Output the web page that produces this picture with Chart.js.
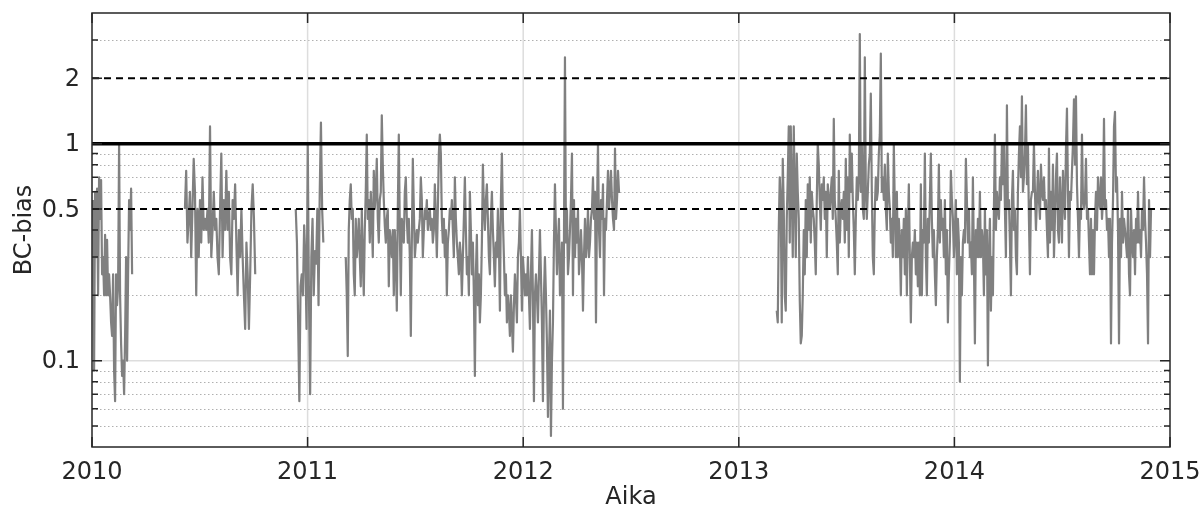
<!DOCTYPE html>
<html>
<head>
<meta charset="utf-8">
<title>BC-bias</title>
<script src="https://cdn.jsdelivr.net/npm/chart.js@4.4.1/dist/chart.umd.min.js"></script>
<style>
    html, body { margin: 0; padding: 0; background: #ffffff; }
    #wrap { width: 1203px; height: 508px; }
</style>
</head>
<body>
<div id="wrap"><canvas id="biasChart" width="1203" height="508"></canvas></div>
<script>
// Axis ticks and reference levels
const yearTicks = [2010, 2011, 2012, 2013, 2014, 2015];
const yTickValues = [0.1, 0.5, 1, 2];
const yMinorValues = [0.05, 0.06, 0.07, 0.08, 0.09, 0.2, 0.3, 0.4, 0.6, 0.7, 0.8, 0.9, 3];
const refLevels = [0.5, 1, 2];

// Measurement periods (decimal year), one bias array per period
const segStart = [2010.005, 2010.431, 2010.945, 2011.177, 2013.176];
const segEnd   = [2010.186, 2010.757, 2011.073, 2012.449, 2014.912];

const biasA = [0.55, 0.09, 0.6, 0.3, 0.62, 0.2, 0.7, 0.45, 0.68, 0.25,
    0.3, 0.2, 0.38, 0.2, 0.36, 0.2, 0.25, 0.2, 0.15, 0.13,
    0.25, 0.09, 0.065, 0.25, 0.18, 0.22, 1.0, 0.2, 0.12, 0.085,
    0.1, 0.07, 0.13, 0.3, 0.1, 0.25, 0.55, 0.4, 0.62, 0.25];

const biasB = [0.5, 0.75, 0.35, 0.45, 0.6, 0.3, 0.5, 0.85, 0.6, 0.2,
    0.5, 0.3, 0.55, 0.35, 0.7, 0.4, 0.45, 0.4, 0.5, 0.35,
    1.2, 0.3, 0.4, 0.6, 0.4, 0.45, 0.3, 0.25, 0.5, 0.9,
    0.3, 0.55, 0.4, 0.75, 0.4, 0.6, 0.3, 0.25, 0.55, 0.45,
    0.65, 0.35, 0.2, 0.4, 0.3, 0.5, 0.3, 0.2, 0.14, 0.35,
    0.25, 0.14, 0.25, 0.5, 0.65, 0.45, 0.25];

const biasC = [0.5, 0.35, 0.15, 0.065, 0.22, 0.25, 0.2, 0.42, 0.3, 0.14,
    1.0, 0.2, 0.07, 0.3, 0.45, 0.2, 0.32, 0.28, 0.5, 0.18,
    0.6, 1.25, 0.5, 0.35];

const biasD = [0.3, 0.2, 0.105, 0.4, 0.55, 0.65, 0.45, 0.5, 0.25, 0.2,
    0.45, 0.3, 0.35, 0.45, 0.3, 0.22, 0.5, 0.3, 0.2, 0.4,
    0.6, 1.1, 0.45, 0.55, 0.35, 0.6, 0.45, 0.3, 0.75, 0.5,
    0.6, 0.85, 0.45, 0.35, 0.55, 0.6, 1.35, 0.8, 0.55, 0.42,
    0.35, 0.45, 0.5, 0.22, 0.4, 0.35, 0.3, 0.4, 0.2, 0.4,
    0.3, 0.17, 0.5, 1.1, 0.4, 0.2, 0.45, 0.4, 0.35, 0.6,
    0.7, 0.45, 0.35, 0.45, 0.3, 0.13, 0.35, 0.85, 0.5, 0.3,
    0.35, 0.4, 0.35, 0.4, 0.45, 0.7, 0.55, 0.3, 0.4, 0.5,
    0.45, 0.55, 0.4, 0.45, 0.5, 0.4, 0.45, 0.35, 0.4, 0.65,
    0.45, 0.3, 0.5, 0.9, 1.1, 0.9, 0.45, 0.35, 0.45, 0.3,
    0.4, 0.2, 0.35, 0.4, 0.5, 0.45, 0.55, 0.4, 0.3, 0.7,
    0.45, 0.35, 0.3, 0.25, 0.35, 0.3, 0.2, 0.3, 0.45, 0.7,
    0.4, 0.25, 0.3, 0.2,
    0.6, 0.4, 0.25, 0.35, 0.2, 0.085, 0.25, 0.38, 0.18, 0.25,
    0.15, 0.2, 0.35, 0.8, 0.5, 0.4, 0.55, 0.65, 0.45, 0.3,
    0.25, 0.45, 0.6, 0.4, 0.3, 0.22, 0.35, 0.3, 0.5, 0.35,
    0.17, 0.55, 0.9, 0.45, 0.3, 0.2, 0.25, 0.15, 0.2, 0.17,
    0.13, 0.2, 0.15, 0.11, 0.18, 0.25, 0.2, 0.15, 0.3, 0.35,
    0.5, 0.3, 0.17, 0.3, 0.25, 0.2, 0.25, 0.2, 0.3, 0.2,
    0.14, 0.25, 0.4, 0.2, 0.065, 0.2, 0.25, 0.2, 0.15, 0.25,
    0.4, 0.25, 0.15, 0.065, 0.2, 0.3, 0.2, 0.12, 0.055, 0.1,
    0.17,
    0.045, 0.1, 0.15, 0.35, 0.65, 0.4, 0.25, 0.35, 0.45, 0.2,
    0.25, 0.35, 0.06, 0.35, 2.5, 0.35, 0.5, 0.25, 0.3, 0.4,
    0.55, 0.9, 0.2, 0.55, 0.3, 0.45, 0.35, 0.5, 0.25, 0.3,
    0.4, 0.3, 0.17, 0.3, 0.45, 0.3, 0.35, 0.5, 0.3, 0.35,
    0.45, 0.5, 0.7, 0.45, 0.6, 0.15, 0.5, 1.0, 0.4, 0.3,
    0.55, 0.45, 0.65, 0.2, 0.45, 0.4, 0.55, 0.75, 0.5, 0.6,
    0.75, 0.55, 0.45, 0.4, 0.95, 0.45, 0.55, 0.75, 0.6, 0.6];

const biasE = [0.17, 0.15, 0.4, 0.7, 0.55, 0.15, 0.85, 0.5, 0.2, 0.17,
    0.45, 0.7, 1.2, 0.35, 1.2, 0.6, 0.3, 1.2, 0.6, 0.3,
    0.9, 0.6, 0.45, 0.19, 0.12, 0.13, 0.2, 0.4, 0.25, 0.55,
    0.3, 0.65, 0.4, 0.7, 0.35, 0.6, 0.5, 0.45, 0.35, 0.25,
    0.55, 1.0, 0.8, 0.55, 0.4, 0.65, 0.55, 0.7, 0.45, 0.6,
    0.3, 0.65, 0.55, 0.5, 0.6, 0.7, 0.45, 1.3, 0.55, 0.45,
    0.35, 0.25, 0.75, 0.35, 0.5, 0.55, 0.45, 0.6, 0.35, 0.85,
    0.4, 0.7, 0.3, 1.1, 0.6, 0.9, 0.55, 0.4, 0.25, 0.45,
    0.7, 0.55, 0.7, 3.2, 0.6, 1.0, 0.5, 0.45, 2.5, 0.6,
    0.45, 0.6, 0.8, 0.9, 1.7, 0.6, 0.3, 0.25, 0.5, 0.7,
    0.55, 0.6, 0.9, 1.1, 2.6, 0.6, 0.7, 0.55, 0.8, 0.5,
    0.4, 0.9, 0.6, 0.5, 0.35, 0.45, 0.3, 1.0, 0.5, 0.3,
    0.6, 0.3,
    0.45, 0.35, 0.2, 0.4, 0.3, 0.45, 0.25, 0.5, 0.2, 0.4,
    0.65, 0.3, 0.15, 0.3, 0.35, 0.3, 0.4, 0.25, 0.35, 0.22, 0.35,
    0.2, 0.65, 0.2, 0.4, 0.35, 0.9, 0.3, 0.2, 0.45, 0.35,
    0.55, 0.9, 0.45, 0.3, 0.4, 0.25, 0.18, 0.3, 0.4, 0.8, 0.35,
    0.55, 0.4, 0.45, 0.3, 0.55, 0.25, 0.4, 0.15, 0.25, 0.35, 0.75,
    0.55, 0.45, 0.3, 0.4, 0.55, 0.25, 0.45, 0.35, 0.08, 0.3, 0.2,
    0.35, 0.4, 0.35, 0.85, 0.55, 0.35, 0.5, 0.3, 0.35, 0.25,
    0.7, 0.3, 0.12, 0.4, 0.3, 0.45, 0.3, 0.6, 0.3, 0.4,
    0.35, 0.2, 0.5, 0.25, 0.4, 0.095, 0.3, 0.45, 0.17, 0.3, 0.2,
    0.5, 1.1, 0.4, 0.6, 0.5, 0.45, 0.7, 0.55, 1.0, 0.65,
    1.0, 0.5, 0.3, 1.5, 0.5, 0.55, 0.35, 0.2, 0.55, 0.75,
    0.4, 0.5, 0.3, 0.25, 0.6, 0.9, 1.2, 0.7, 1.65, 0.6,
    0.7, 0.9, 1.5, 0.65, 1.0, 0.45, 0.25, 0.55, 0.6, 0.6,
    1.0,
    0.6, 0.4, 0.55, 0.75, 0.55, 0.45, 0.8, 0.6, 0.55, 0.7,
    0.5, 0.55, 0.4, 0.3, 0.95, 0.35, 0.6, 0.4, 0.8, 0.3,
    0.45, 0.7, 0.9, 0.4, 0.35, 0.7, 0.5, 0.35, 0.75, 0.55,
    0.45, 0.95, 1.45, 0.6, 0.3, 0.6, 0.55, 0.75, 1.0, 1.6,
    0.8, 1.65, 0.65, 0.45, 0.3, 0.5, 0.45, 1.1, 0.55, 0.5,
    0.55, 0.85, 0.45, 0.5, 0.35, 0.25, 0.45, 0.25, 0.4, 0.25,
    0.45, 0.6, 0.4, 0.7, 0.55, 0.5, 0.7, 0.45, 0.55, 1.3,
    0.5, 0.55, 0.4, 0.45, 0.3, 0.45, 0.12, 0.35, 0.55, 1.2,
    1.4, 0.6, 0.7, 0.4, 0.12, 0.45, 0.3, 0.6, 0.35, 0.45,
    0.4, 0.35, 0.3, 0.5, 0.25, 0.2, 0.5, 0.35, 0.3, 0.4,
    0.25, 0.45, 0.35, 0.6, 0.35, 0.4, 0.3, 0.5, 0.4, 0.7,
    0.45, 0.35, 0.25, 0.12, 0.55, 0.3, 0.5];

const biasSegments = [biasA, biasB, biasC, biasD, biasE];

// Spread each period's samples evenly over its dates, with a null between periods
const biasPoints = [];
biasSegments.forEach((seg, s) => {
    const step = (segEnd[s] - segStart[s]) / (seg.length - 1);
    seg.forEach((v, i) => biasPoints.push({ x: segStart[s] + i * step, y: v }));
    biasPoints.push({ x: segEnd[s] + step, y: null });
});

const textColor = '#262626';
const fontFamily = "'DejaVu Sans', 'Liberation Sans', sans-serif";

// Grid lines under the data, frame and inward ticks on top
const axesFrame = {
    id: 'axesFrame',
    beforeDatasetsDraw(chart) {
        const { ctx, chartArea: a, scales: { x, y } } = chart;
        ctx.save();
        ctx.lineWidth = 1;
        ctx.strokeStyle = '#b0b0b0';
        ctx.setLineDash([1.5, 2.5]);
        yMinorValues.forEach(v => {
            const py = Math.round(y.getPixelForValue(v)) + 0.5;
            ctx.beginPath();
            ctx.moveTo(a.left, py);
            ctx.lineTo(a.right, py);
            ctx.stroke();
        });
        ctx.setLineDash([]);
        ctx.strokeStyle = '#dddddd';
        ctx.lineWidth = 1.5;
        [0.1, 1].forEach(v => {
            const py = y.getPixelForValue(v);
            ctx.beginPath();
            ctx.moveTo(a.left, py);
            ctx.lineTo(a.right, py);
            ctx.stroke();
        });
        yearTicks.slice(1, -1).forEach(yr => {
            const px = x.getPixelForValue(yr);
            ctx.beginPath();
            ctx.moveTo(px, a.top);
            ctx.lineTo(px, a.bottom);
            ctx.stroke();
        });
        ctx.restore();
    },
    afterDraw(chart) {
        const { ctx, chartArea: a, scales: { x, y } } = chart;
        ctx.save();
        ctx.strokeStyle = textColor;
        ctx.lineWidth = 1.5;
        ctx.beginPath();
        yearTicks.forEach(yr => {
            const px = x.getPixelForValue(yr);
            ctx.moveTo(px, a.bottom);
            ctx.lineTo(px, a.bottom - 10);
            ctx.moveTo(px, a.top);
            ctx.lineTo(px, a.top + 10);
        });
        yTickValues.concat(yMinorValues).forEach(v => {
            const py = y.getPixelForValue(v);
            const len = yTickValues.includes(v) ? 10 : 6;
            ctx.moveTo(a.left, py);
            ctx.lineTo(a.left + len, py);
            ctx.moveTo(a.right, py);
            ctx.lineTo(a.right - len, py);
        });
        ctx.stroke();
        ctx.strokeRect(a.left, a.top, a.right - a.left, a.bottom - a.top);
        ctx.restore();
    }
};

const refDatasets = refLevels.map(lv => ({
    data: [{ x: yearTicks[0], y: lv }, { x: yearTicks[yearTicks.length - 1], y: lv }],
    borderColor: '#000000',
    borderWidth: lv === 1 ? 3.5 : 2,
    borderDash: lv === 1 ? [] : [7, 5],
    pointRadius: 0,
    order: 0
}));

new Chart(document.getElementById('biasChart'), {
    type: 'line',
    data: {
        datasets: [
            ...refDatasets,
            {
                label: 'BC-bias',
                data: biasPoints,
                borderColor: '#808080',
                borderWidth: 2.2,
                borderJoinStyle: 'round',
                pointRadius: 0,
                spanGaps: false,
                tension: 0,
                order: 1
            }
        ]
    },
    options: {
        responsive: false,
        devicePixelRatio: 1,
        animation: false,
        layout: { padding: { top: 13, right: 33, left: 0, bottom: 0 } },
        plugins: {
            legend: { display: false },
            tooltip: { enabled: false }
        },
        scales: {
            x: {
                type: 'linear',
                min: 2010,
                max: 2015,
                afterBuildTicks: scale => { scale.ticks = yearTicks.map(v => ({ value: v })); },
                afterFit: scale => {
                    scale.height = 61;
                    scale.paddingLeft = 0;
                    scale.paddingRight = 0;
                },
                grid: { display: false, drawTicks: false },
                border: { display: false },
                ticks: {
                    padding: 11,
                    maxRotation: 0,
                    autoSkip: false,
                    color: textColor,
                    font: { family: fontFamily, size: 24 },
                    callback: v => String(v)
                },
                title: {
                    display: true,
                    text: 'Aika',
                    color: textColor,
                    padding: 0,
                    font: { family: fontFamily, size: 24, lineHeight: 0.85 }
                }
            },
            y: {
                type: 'logarithmic',
                min: 0.04,
                max: 4,
                afterBuildTicks: scale => { scale.ticks = yTickValues.map(v => ({ value: v })); },
                afterFit: scale => {
                    scale.width = 92;
                    scale.paddingTop = 0;
                    scale.paddingBottom = 0;
                },
                grid: { display: false, drawTicks: false },
                border: { display: false },
                ticks: {
                    padding: 12,
                    labelOffset: 1.5,
                    autoSkip: false,
                    color: textColor,
                    font: { family: fontFamily, size: 24 },
                    callback: v => String(v)
                },
                title: {
                    display: true,
                    text: 'BC-bias',
                    color: textColor,
                    padding: { top: 10.5, bottom: 0 },
                    font: { family: fontFamily, size: 24 }
                }
            }
        }
    },
    plugins: [axesFrame]
});
</script>
</body>
</html>
